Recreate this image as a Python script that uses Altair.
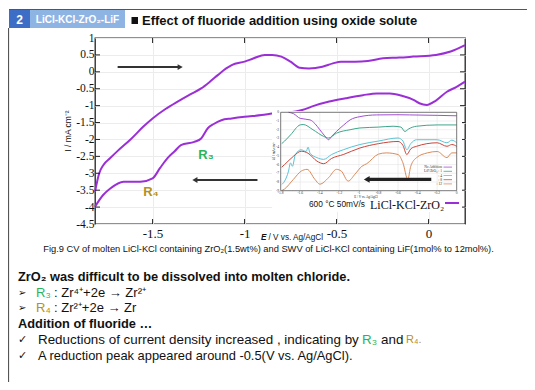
import altair as alt
import pandas as pd

# ---------------- data ----------------
# main CV (LiCl-KCl-ZrO2), forward scan (upper branch)
CV_FWD_E = [-1.813, -1.79, -1.768, -1.73, -1.694, -1.62, -1.55, -1.5, -1.43, -1.364, -1.30, -1.236,
            -1.19, -1.144, -1.10, -1.07, -1.0, -0.95, -0.89, -0.85, -0.80, -0.75, -0.70, -0.65,
            -0.577, -0.52, -0.476, -0.40, -0.33, -0.247, -0.16, -0.082, 0.04, 0.12, 0.198]
CV_FWD_I = [-3.55, -3.0, -2.76, -2.55, -2.36, -2.0, -1.62, -1.38, -1.1, -0.88, -0.68, -0.49,
            -0.30, -0.09, 0.10, 0.2, 0.3, 0.4, 0.5, 0.5, 0.45, 0.30, 0.12, 0.10,
            0.15, 0.25, 0.3, 0.3, 0.32, 0.4, 0.42, 0.45, 0.5, 0.6, 0.79]
# reverse scan (lower branch)
CV_REV_E = [0.198, 0.15, 0.1, 0.04, -0.01, -0.05, -0.082, -0.15, -0.21, -0.28, -0.357, -0.45,
            -0.54, -0.62, -0.687, -0.76, -0.835, -0.907, -1.0, -1.07, -1.126, -1.17, -1.2,
            -1.236, -1.273, -1.346, -1.38, -1.42, -1.46, -1.5, -1.566, -1.62, -1.658, -1.73,
            -1.77, -1.813]
CV_REV_I = [-0.29, -0.45, -0.59, -0.85, -0.98, -0.93, -0.83, -0.70, -0.64, -0.64, -0.69, -0.78,
            -0.88, -1.0, -1.13, -1.2, -1.22, -1.28, -1.33, -1.38, -1.43, -1.55, -1.67,
            -1.97, -2.07, -2.17, -2.35, -2.56, -2.85, -3.15, -3.25, -3.25, -3.25, -3.45,
            -3.65, -3.99]

# inset SWV curves
SWV_NAMES = ["No Addition", "LiF/ZrO\u2082 : 1", ": 4", ": 8", ": 12"]
SWV_COLORS = ["#A24FD3", "#3FA58C", "#5CC3D6", "#C9463B", "#DA8A5C"]
SWV0_X = [-1.72, -1.67, -1.6, -1.5, -1.45, -1.4, -1.35, -1.31, -1.28, -1.23, -1.16, -1.09, -0.99,
          -0.82, -0.6, -0.48, -0.2, 0.0]
SWV0_Y = [0.0, -0.15, -0.7, -0.87, -1.3, -2.0, -2.7, -3.15, -2.77, -2.2, -1.5, -0.87, -0.5,
          -0.3, -0.28, -0.3, -0.35, -0.4]
SWV1_X = [-1.79, -1.76, -1.70, -1.6, -1.57, -1.47, -1.36, -1.31, -1.23, -1.09, -0.99, -0.8,
          -0.65, -0.57, -0.53, -0.49, -0.41, -0.2, 0.0]
SWV1_Y = [-3.6, -3.3, -2.6, -1.44, -1.4, -2.0, -2.77, -2.95, -2.4, -2.0, -1.8, -1.7,
          -1.6, -1.7, -2.2, -1.9, -1.6, -1.45, -1.45]
SWV4_X = [-1.79, -1.76, -1.72, -1.70, -1.68, -1.65, -1.59, -1.54, -1.52, -1.50, -1.43, -1.36,
          -1.28, -1.16, -0.99, -0.8, -0.6, -0.55, -0.51, -0.47, -0.41, -0.2, -0.1, -0.05, 0.0]
SWV4_Y = [-8.3, -7.9, -6.75, -5.8, -6.2, -4.85, -4.3, -4.5, -4.0, -4.7, -5.2, -5.4,
          -4.85, -4.3, -3.7, -3.3, -2.95, -3.3, -4.3, -3.6, -3.15, -3.15, -3.5, -3.2, -3.5]
SWV8_X = [-1.79, -1.76, -1.67, -1.59, -1.52, -1.43, -1.36, -1.28, -1.16, -0.99, -0.8, -0.6,
          -0.55, -0.51, -0.47, -0.41, -0.2, -0.1, -0.05, 0.0]
SWV8_Y = [-6.3, -6.0, -5.05, -4.47, -4.7, -5.6, -5.9, -5.3, -4.85, -4.1, -3.6, -3.35,
          -3.8, -4.85, -4.2, -3.9, -3.5, -3.9, -3.7, -3.9]
SWV12_X = [-1.79, -1.76, -1.67, -1.59, -1.53, -1.45, -1.4, -1.31, -1.23, -1.18, -1.11, -1.04,
           -0.97, -0.92, -0.8, -0.72, -0.6, -0.55, -0.5, -0.47, -0.41, -0.3, -0.2, -0.1, -0.05, 0.0]
SWV12_Y = [-9.0, -8.8, -7.7, -6.75, -6.55, -7.7, -8.25, -7.5, -6.55, -6.75, -7.9, -7.1,
           -6.2, -5.9, -4.8, -4.66, -4.85, -5.8, -7.7, -6.2, -5.2, -4.66, -4.5, -5.2, -4.66, -4.66]

MAIN_XT = [-1.5, -1.0, -0.5, 0.0]
MAIN_YT = [1, 0.5, 0, -0.5, -1, -1.5, -2, -2.5, -3, -3.5, -4, -4.5]
INSET_XT = [-1.8, -1.6, -1.4, -1.2, -1.0, -0.8, -0.6, -0.4, -0.2, 0.0]
INSET_YT = [0, -1, -2, -3, -4, -5, -6, -7, -8, -9]

# arrows (data units)
ARROW_FWD_E = [-1.69, -1.35]
ARROW_FWD_I = 0.14
ARROW_REV_E = [-0.93, -1.27]
ARROW_REV_I = -3.2
ARROW_INSET_X = [-0.26, -0.92]
ARROW_INSET_Y = -7.7

# ---------------- layout helpers ----------------
OX, OY = 95, 38          # page position of main plot origin
W, H = 370, 186
SANS = "Liberation Sans"
SERIF = "Liberation Serif"
PURPLE = "#9B2FD6"
GREEN = "#2DB35A"
GOLD = "#B8901E"

XS = alt.Scale(domain=[-1.813, 0.198], range=[0, W], nice=False, zero=False)
YS = alt.Scale(domain=[-4.5, 1], range=[H, 0], nice=False, zero=False)
IXS = alt.Scale(domain=[-1.8, 0], range=[280.7 - OX, 456.7 - OX], nice=False, zero=False)
IYS = alt.Scale(domain=[-9, 0], range=[190.7 - OY, 112.3 - OY], nice=False, zero=False)

one = pd.DataFrame({"t": [""]})


def T(text, px, py, size=11, weight="normal", color="#111", font=SANS, align="left",
      style="normal", angle=0):
    return alt.Chart(pd.DataFrame({"t": [text]})).mark_text(
        align=align, baseline="middle", fontSize=size, fontWeight=weight, color=color,
        font=font, fontStyle=style, angle=angle
    ).encode(x=alt.value(px - OX), y=alt.value(py - OY), text="t:N")


def RECT(x1, y1, x2, y2, fill, stroke=None, sw=0):
    kw = dict(fill=fill)
    if stroke:
        kw.update(stroke=stroke, strokeWidth=sw)
    return alt.Chart(one).mark_rect(**kw).encode(
        x=alt.value(x1 - OX), x2=alt.value(x2 - OX), y=alt.value(y1 - OY), y2=alt.value(y2 - OY))


def LINE(x1, y1, x2, y2, color="#444", sw=1.0):
    return alt.Chart(one).mark_rule(color=color, strokeWidth=sw).encode(
        x=alt.value(x1 - OX), x2=alt.value(x2 - OX), y=alt.value(y1 - OY), y2=alt.value(y2 - OY))


# ---------------- main CV ----------------
cv = pd.concat([
    pd.DataFrame({"E": CV_FWD_E, "I": CV_FWD_I, "branch": "fwd", "o": range(len(CV_FWD_E))}),
    pd.DataFrame({"E": CV_REV_E, "I": CV_REV_I, "branch": "rev", "o": range(len(CV_REV_E))}),
])
lbl = "datum.value + ''"
main = alt.Chart(cv).mark_line(color=PURPLE, strokeWidth=2, interpolate="monotone").encode(
    x=alt.X("E:Q", scale=XS, axis=alt.Axis(values=MAIN_XT, title=None, labelFont=SERIF,
                                           labelFontSize=13, labelColor="#111", tickSize=0,
                                           labelPadding=3, domain=False, grid=True,
                                           gridColor="#ececec", labelExpr=lbl)),
    y=alt.Y("I:Q", scale=YS, axis=alt.Axis(values=MAIN_YT, title=None, labelFont=SERIF,
                                           labelFontSize=11.5, labelColor="#111", tickSize=0,
                                           labelPadding=1, domain=False, grid=True,
                                           gridColor="#ececec", labelExpr=lbl)),
    detail="branch:N", order="o:Q",
)

yt = pd.DataFrame({"v": MAIN_YT[1:-1]})
xt = pd.DataFrame({"v": MAIN_XT})
ticks = [
    alt.Chart(yt).mark_rule(color="#222").encode(y=alt.Y("v:Q", scale=YS, axis=None), x=alt.value(0), x2=alt.value(5)),
    alt.Chart(yt).mark_rule(color="#222").encode(y=alt.Y("v:Q", scale=YS, axis=None), x=alt.value(W - 5), x2=alt.value(W)),
    alt.Chart(xt).mark_rule(color="#222").encode(x=alt.X("v:Q", scale=XS, axis=None), y=alt.value(0), y2=alt.value(5)),
    alt.Chart(xt).mark_rule(color="#222").encode(x=alt.X("v:Q", scale=XS, axis=None), y=alt.value(H - 5), y2=alt.value(H)),
]


def arrow(xs, yv, xsc, ysc, shape, color, sw, size):
    d = pd.DataFrame({"a": [xs[0]], "b": [xs[1]], "y": [yv]})
    r = alt.Chart(d).mark_rule(color=color, strokeWidth=sw).encode(
        x=alt.X("a:Q", scale=xsc, axis=None), x2="b:Q", y=alt.Y("y:Q", scale=ysc, axis=None))
    h = alt.Chart(d).mark_point(shape=shape, filled=True, color=color, opacity=1, size=size).encode(
        x=alt.X("b:Q", scale=xsc, axis=None), y=alt.Y("y:Q", scale=ysc, axis=None))
    return [r, h]


arrows = (arrow(ARROW_FWD_E, ARROW_FWD_I, XS, YS, "triangle-right", "#333", 2, 35)
          + arrow(ARROW_REV_E, ARROW_REV_I, XS, YS, "triangle-left", "#333", 2, 35))

# ---------------- inset ----------------
sw = pd.concat([
    pd.DataFrame({"x": xs, "y": ys, "s": n, "o": range(len(xs))})
    for n, xs, ys in zip(SWV_NAMES, [SWV0_X, SWV1_X, SWV4_X, SWV8_X, SWV12_X],
                         [SWV0_Y, SWV1_Y, SWV4_Y, SWV8_Y, SWV12_Y])
])
CS = alt.Scale(domain=SWV_NAMES, range=SWV_COLORS)
LEG_S = alt.Scale(domain=SWV_NAMES, range=[165 - OY, 186 - OY])
inset_bg = RECT(272, 111, 462, 212, "white")
ixg = alt.Chart(pd.DataFrame({"v": INSET_XT[1:-1]})).mark_rule(color="#e4e4e4", strokeWidth=0.6).encode(
    x=alt.X("v:Q", scale=IXS, axis=None), y=alt.value(112.3 - OY), y2=alt.value(190.7 - OY))
iyg = alt.Chart(pd.DataFrame({"v": INSET_YT[1:-1]})).mark_rule(color="#e4e4e4", strokeWidth=0.6).encode(
    y=alt.Y("v:Q", scale=IYS, axis=None), x=alt.value(280.7 - OX), x2=alt.value(456.7 - OX))
iframe = alt.Chart(pd.DataFrame({"a": [-1.8], "b": [0.0], "c": [-9], "d": [0]})).mark_rect(
    fill=None, stroke="#555", strokeWidth=0.8).encode(
    x=alt.X("a:Q", scale=IXS, axis=None), x2="b:Q", y=alt.Y("c:Q", scale=IYS, axis=None), y2="d:Q")
ilines = alt.Chart(sw).mark_line(strokeWidth=1, interpolate="monotone").encode(
    x=alt.X("x:Q", scale=IXS, axis=None), y=alt.Y("y:Q", scale=IYS, axis=None),
    color=alt.Color("s:N", scale=CS, legend=None), detail="s:N", order="o:Q")
ixl = alt.Chart(pd.DataFrame({"v": INSET_XT, "t": ["{:g}".format(v) for v in INSET_XT]})).mark_text(
    fontSize=3.6, font=SERIF, color="#333", baseline="middle").encode(
    x=alt.X("v:Q", scale=IXS, axis=None), y=alt.value(193 - OY), text="t:N")
iyl = alt.Chart(pd.DataFrame({"v": INSET_YT, "t": ["{:g}".format(v) for v in INSET_YT]})).mark_text(
    fontSize=3.6, font=SERIF, color="#333", align="right", baseline="middle").encode(
    y=alt.Y("v:Q", scale=IYS, axis=None), x=alt.value(279 - OX), text="t:N")
ileg_t = alt.Chart(pd.DataFrame({"s": SWV_NAMES})).mark_text(
    fontSize=3.6, font=SERIF, color="#333", align="right", baseline="middle").encode(
    y=alt.Y("s:N", scale=LEG_S, axis=None), x=alt.value(442 - OX), text="s:N")
ileg_l = alt.Chart(pd.DataFrame({"s": SWV_NAMES})).mark_rule(strokeWidth=0.8).encode(
    y=alt.Y("s:N", scale=LEG_S, axis=None),
    x=alt.value(443.5 - OX), x2=alt.value(452 - OX),
    color=alt.Color("s:N", scale=CS, legend=None))
iarrow = arrow(ARROW_INSET_X, ARROW_INSET_Y, IXS, IYS, "triangle-left", "#222", 3.2, 45)

# ---------------- slide texts ----------------
texts = [
    LINE(9, 9.5, 535, 9.5, "#555", 1.2),
    LINE(8.5, 28, 8.5, 390, "#555", 1.2),
    RECT(9, 10, 30, 28, "#3D6EC6"),
    RECT(30, 10, 125, 28, "#8EB4E3"),
    T("2", 19.5, 19.5, 12, "bold", "white", align="center"),
    T("LiCl-KCl-ZrO\u2082-LiF", 77.5, 19.5, 10, "bold", "white", align="center"),
    RECT(131.5, 17, 138, 24, "#111"),
    T("Effect of fluoride addition using oxide solute", 142, 21, 13, "bold"),
    T("I / mA cm\u207b\u00b2", 68, 131, 8.5, angle=270, align="center"),
    T("E", 261, 238, 8.2, "bold", style="italic"),
    T("/ V vs. Ag/AgCl", 268.5, 238, 8.2),
    T("Fig.9 CV of molten LiCl-KCl containing ZrO\u2082(1.5wt%) and SWV of LiCl-KCl containing  LiF(1mol% to 12mol%).",
      268.5, 249, 9.3, align="center"),
    T("R\u2083", 206, 155, 13, "bold", GREEN, align="center"),
    T("R\u2084", 151, 192, 13, "bold", GOLD, align="center"),
    T("600 \u00b0C 50mV/s", 309, 204.5, 8.3),
    T("LiCl-KCl-ZrO\u2082", 370, 204.5, 12, font=SERIF),
    LINE(445, 203, 459, 203, PURPLE, 2),
    T("\u03b4I / mA cm\u207b\u00b2", 274, 151, 3.4, angle=270, align="center", font=SERIF),
    T("E / V vs. Ag/AgCl", 366, 196.8, 3.2, align="center", font=SERIF),
    T("ZrO\u2082 was difficult to be dissolved into molten chloride.", 18, 277, 12.8, "bold"),
    T("\u27a2", 18, 293, 10, font="DejaVu Sans"),
    T("R\u2083", 36, 293, 13, color=GREEN),
    T(": Zr\u2074\u207a+2e \u2192 Zr\u00b2\u207a", 54, 293, 13),
    T("\u27a2", 18, 308, 10, font="DejaVu Sans"),
    T("R\u2084", 36, 308, 13, color=GOLD),
    T(": Zr\u00b2\u207a+2e \u2192 Zr", 54, 308, 13),
    T("Addition of fluoride \u2026", 18, 324, 12.8, "bold"),
    T("\u2713", 18, 340, 11, font="DejaVu Sans"),
    T("Reductions of current density increased , indicating by", 38, 340, 13.4),
    T("R\u2083", 362, 340, 13.4, color=GREEN),
    T("and", 381, 340, 13.4),
    T("R\u2084.", 406, 340, 11, color=GOLD),
    T("\u2713", 18, 356, 11, font="DejaVu Sans"),
    T("A reduction peak appeared around -0.5(V vs. Ag/AgCl).", 38, 356, 12.9),
]

layers = ([main] + ticks + arrows + [inset_bg, ixg, iyg, ilines, iframe, ixl, iyl, ileg_l, ileg_t]
          + iarrow + texts)

chart = alt.layer(*layers).resolve_scale(x="independent", y="independent").properties(
    width=W, height=H,
    autosize=alt.AutoSizeParams(type="none"),
    padding={"left": OX - 8, "top": OY - 8, "right": 535 - 16 - (OX - 8) - W,
             "bottom": 390 - 16 - (OY - 8) - H},
    background="white",
).configure_view(stroke="#222", strokeWidth=1.3)

chart.save("out.html", embed_options={"renderer": "svg", "actions": False})
